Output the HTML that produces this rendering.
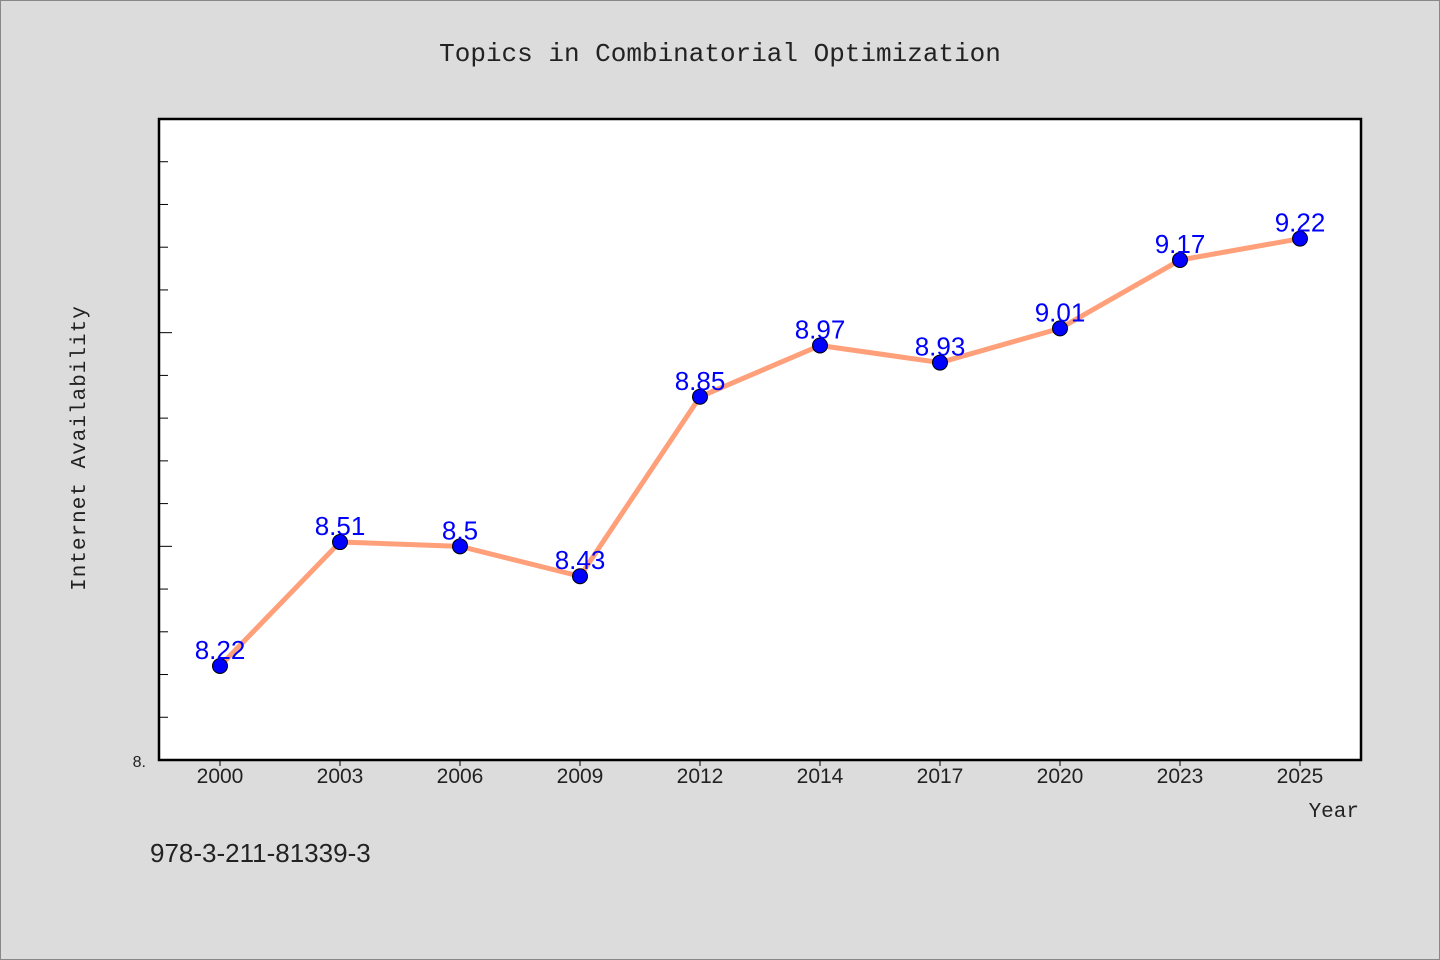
<!DOCTYPE html>
<html><head><meta charset="utf-8"><style>
body{margin:0;background:#dcdcdc;width:1440px;height:960px;overflow:hidden;font-family:"Liberation Sans","Noto Sans CJK SC",sans-serif}
</style></head><body>
<svg width="1440" height="960" style="position:absolute;left:0;top:0">
<rect x="0.5" y="0.5" width="1439" height="959" fill="#dcdcdc" stroke="#888"/>
<text x="720" y="61" text-anchor="middle" font-family="Liberation Mono, monospace" font-size="26" fill="#222">Topics in Combinatorial Optimization</text>
<rect x="159" y="119" width="1202" height="641" fill="#fff" stroke="#000" stroke-width="2.5"/>
<g id="yticks"></g>
<g id="xticks"></g>
<text x="146" y="767" text-anchor="end" font-size="16" fill="#222">8.</text>
<text transform="translate(85,448) rotate(-90)" text-anchor="middle" font-family="Liberation Mono, monospace" font-size="21" fill="#222" letter-spacing="1">Internet Availability</text>
<text x="1359" y="817" text-anchor="end" font-family="Liberation Mono, monospace" font-size="21" fill="#222">Year</text>
<text x="150" y="862" font-size="26" fill="#222">978-3-211-81339-3</text>
<g id="series"></g>
</svg>
<script>
const categories=["2000","2003","2006","2009","2012","2014","2017","2020","2023","2025"];
const values=[8.22,8.51,8.5,8.43,8.85,8.97,8.93,9.01,9.17,9.22];
const yMin=8.0,yMax=9.5,yStep=0.1;
const L=159,R=1361,T=119,B=760;
const NS="http://www.w3.org/2000/svg";
const xs=i=>220+i*((1300-220)/(categories.length-1));
const ys=v=>B-(v-yMin)/(yMax-yMin)*(B-T);
function mk(t,a,p){const e=document.createElementNS(NS,t);for(const k in a)e.setAttribute(k,a[k]);p.appendChild(e);return e;}
const yt=document.getElementById('yticks');
for(let k=1;k<=Math.round((yMax-yMin)/yStep);k++){const v=yMin+k*yStep;const y=ys(v);
const major=(k%5===0);
const l=mk('line',{x1:L,x2:L+(major?13:9),y1:y,y2:y,stroke:'#000','stroke-width':1},yt);

}
const xt=document.getElementById('xticks');
categories.forEach((c,i)=>{const x=xs(i);
const l=mk('line',{x1:x,x2:x,y1:B,y2:B+6,stroke:'#000'},xt);


const t=mk('text',{x:x,y:783,'text-anchor':'middle','font-size':21,fill:'#222'},xt);


t.textContent=c;});
const s=document.getElementById('series');
const pl=mk('polyline',{points:values.map((v,i)=>xs(i)+','+ys(v)).join(' '),fill:'none',stroke:'#ffa07a','stroke-width':5,'stroke-linejoin':'round'},s);


values.forEach((v,i)=>{
const c=mk('circle',{cx:xs(i),cy:ys(v),r:7.5,fill:'#0000ff',stroke:'#000','stroke-width':1},s);


const t=mk('text',{x:xs(i),y:ys(v)-7,'text-anchor':'middle','font-size':26,fill:'#0000ff'},s);


t.textContent=String(v);});
</script>
</body></html>
